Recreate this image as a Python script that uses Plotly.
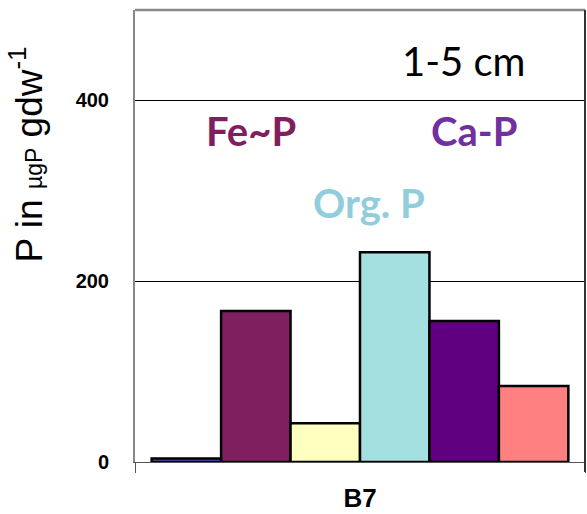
import plotly.graph_objects as go

# Phosphorus fractions for core B7, 1-5 cm layer (µg P per g dry weight)
site = ["B7"]
fractions = ["Loosely sorbed P", "Fe~P", "Al-P", "Org. P", "Ca-P", "Residual P"]
values = [4, 167, 43, 232, 156, 84]
colors = ["#5252c6", "#7f1f5f", "#ffffc0", "#a4e0e0", "#600080", "#ff8080"]

y_range = [0, 500]
y_ticks = [0, 200, 400]

fig = go.Figure()
for name, val, col in zip(fractions, values, colors):
    fig.add_trace(go.Bar(
        x=site, y=[val], name=name,
        marker=dict(color=col, line=dict(color="black", width=2.5)),
    ))

fig.update_layout(
    width=587, height=514,
    margin=dict(l=135, r=2, t=10, b=52),
    paper_bgcolor="white", plot_bgcolor="white",
    barmode="group", bargap=0.074, bargroupgap=0,
    showlegend=False,
    xaxis=dict(
        type="category", tickson="boundaries", ticks="outside", ticklen=10,
        tickcolor="#555555", tickwidth=1,
        showline=True, linecolor="#555555", linewidth=1,
        showgrid=False,
        tickfont=dict(family="Liberation Sans", size=26, color="black", weight="bold"),
        ticklabelstandoff=13,
    ),
    yaxis=dict(
        range=y_range, tickvals=y_ticks, ticks="",
        showline=True, linecolor="#888888", linewidth=2,
        showgrid=True, gridcolor="black", gridwidth=1, zeroline=False,
        tickfont=dict(family="Liberation Sans", size=20, color="black", weight="bold"),
        ticklabelstandoff=20,
    ),
)

# frame: grey top edge, dark right edge
fig.add_shape(type="line", xref="paper", yref="paper", x0=0, x1=1, y0=1, y1=1,
              line=dict(color="#888888", width=2.5))
fig.add_shape(type="line", xref="paper", yref="paper", x0=1, x1=1, y0=-0.022, y1=1,
              line=dict(color="#333333", width=2))

# y-axis title
fig.add_annotation(
    xref="paper", yref="paper", x=-0.2416, y=0.681, xanchor="center", yanchor="middle",
    textangle=-90, showarrow=False,
    text="P in <span style='font-size:23px'>µgP</span> gdw<sup>-1</sup>",
    font=dict(family="Liberation Sans", size=37, color="black"),
)

# fraction labels and depth label
labels = [
    ("1-5 cm", 0.730, 0.887, "black", "normal"),
    ("Fe~P", 0.257, 0.732, "#7f1f5f", "bold"),
    ("Ca-P", 0.753, 0.732, "#7030a0", "bold"),
    ("Org. P", 0.519, 0.573, "#92cddc", "bold"),
]
for txt, x, y, col, w in labels:
    fig.add_annotation(
        xref="paper", yref="paper", x=x, y=y, xanchor="center", yanchor="middle",
        text=txt, showarrow=False,
        font=dict(family="Lato", size=40, color=col, weight=w),
    )

fig.write_html("out.html")
